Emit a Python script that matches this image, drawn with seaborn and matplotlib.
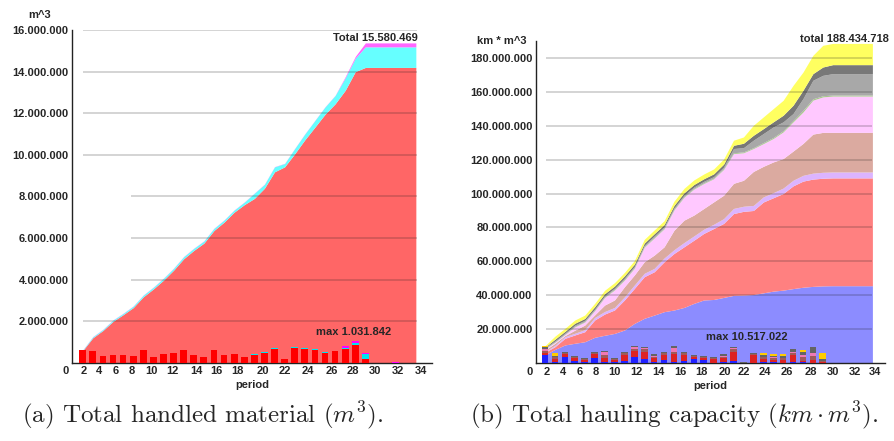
import matplotlib
matplotlib.use("Agg")
import matplotlib.pyplot as plt
from matplotlib.ticker import FuncFormatter
import pandas as pd
import seaborn as sns

sns.set_theme(style="white")
plt.rcParams['font.family'] = ['Liberation Sans', 'DejaVu Sans']
plt.rcParams['mathtext.fontset'] = 'cm'

# periods of the cumulative areas and of the per-period bars
periods = list(range(1, 35))
bar_periods = list(range(1, 30)) + [32]
tick_labels = [str(v) for v in range(2, 36, 2)]

# (a) cumulative handled material, million m^3 (upper edge of each band)
mat_red_top = [0.58, 1.20, 1.55, 1.99, 2.31, 2.65, 3.17, 3.55, 3.97, 4.45, 5.00, 5.40, 5.75, 6.36, 6.76, 7.24, 7.60,
               7.90, 8.39, 9.18, 9.42, 10.05, 10.72, 11.33, 11.95, 12.45, 13.10, 14.00, 14.20, 14.20, 14.20, 14.20, 14.20, 14.20]
mat_cyan_top = [0.61, 1.25, 1.60, 2.05, 2.37, 2.72, 3.25, 3.63, 4.06, 4.54, 5.10, 5.50, 5.85, 6.46, 6.86, 7.34, 7.72,
                8.15, 8.58, 9.42, 9.58, 10.30, 11.00, 11.65, 12.30, 12.85, 13.70, 14.65, 15.19, 15.19, 15.19, 15.19, 15.19, 15.19]
mat_magenta_top = [0.62, 1.26, 1.61, 2.06, 2.38, 2.73, 3.26, 3.64, 4.07, 4.55, 5.11, 5.51, 5.86, 6.47, 6.87, 7.35, 7.73,
                   8.16, 8.59, 9.43, 9.59, 10.31, 11.01, 11.66, 12.31, 12.86, 13.75, 14.73, 15.38, 15.38, 15.38, 15.38, 15.38, 15.38]

# (a) handled material per period, million m^3
mat_red = [0.59, 0.54, 0.32, 0.37, 0.35, 0.34, 0.59, 0.26, 0.40, 0.48, 0.59, 0.37, 0.29, 0.63, 0.38, 0.43, 0.27, 0.37,
           0.48, 0.66, 0.16, 0.69, 0.64, 0.59, 0.45, 0.54, 0.66, 0.86, 0.19, 0.0]
mat_cyan = [0.03, 0.04, 0, 0, 0, 0, 0, 0, 0, 0, 0, 0, 0, 0, 0, 0, 0, 0.03, 0.04, 0.03, 0, 0.06, 0.08, 0.05, 0.06, 0.04,
            0.07, 0.10, 0.24, 0.0]
mat_magenta = [0] * 26 + [0.06, 0.07, 0.05, 0.04]

# (b) cumulative hauling capacity, million km*m^3 (upper edge of each band)
hc_blue_top = [5.0, 8.2, 10.8, 11.8, 12.7, 15.3, 16.5, 17.6, 19.6, 23.5, 26.5, 28.4, 30.4, 31.4, 32.9, 35.3, 37.3, 37.6,
               38.8, 40.0, 40.2, 40.5, 41.5, 42.5, 43.1, 44.0, 44.8, 45.3, 45.6, 45.7, 45.7, 45.7, 45.7, 45.7]
hc_red_top = [6.5, 9.8, 14.7, 16.7, 18.6, 25.5, 29.0, 31.4, 37.3, 44.1, 51.0, 53.9, 59.8, 64.7, 68.6, 72.5, 76.5, 79.4,
              82.4, 88.2, 89.5, 90.0, 95.0, 97.5, 100.0, 104.5, 107.3, 108.5, 109.0, 109.2, 109.2, 109.2, 109.2, 109.2]
hc_lav_top = [7.0, 10.6, 15.7, 17.7, 19.8, 27.0, 30.5, 32.9, 39.1, 46.1, 53.0, 55.9, 62.0, 66.9, 71.1, 75.0, 79.0, 81.9,
              85.2, 91.2, 92.5, 93.0, 98.0, 100.5, 103.2, 107.8, 110.7, 112.0, 112.5, 112.7, 112.7, 112.7, 112.7, 112.7]
hc_brown_top = [7.8, 11.8, 16.3, 19.5, 22.5, 28.5, 34.3, 37.3, 45.1, 52.0, 59.8, 63.7, 68.6, 78.4, 84.3, 87.3, 91.2, 95.1,
                99.0, 106.0, 107.8, 113.0, 116.0, 118.6, 120.6, 125.0, 129.5, 135.0, 136.0, 136.0, 136.0, 136.0, 136.0, 136.0]
hc_pink_top = [8.5, 12.4, 17.0, 21.5, 24.3, 31.0, 38.8, 43.2, 49.0, 56.0, 68.4, 73.8, 79.2, 90.4, 97.8, 102.6, 105.9, 108.7,
               114.2, 123.5, 124.0, 126.5, 129.4, 132.4, 136.3, 142.2, 148.0, 155.0, 156.9, 157.4, 157.4, 157.4, 157.4, 157.4]
hc_green_top = [8.7, 12.6, 17.2, 21.8, 24.6, 31.3, 39.1, 43.6, 49.5, 56.4, 68.8, 74.2, 79.6, 90.8, 98.2, 103.0, 106.3, 109.1,
                114.6, 124.0, 124.5, 127.0, 130.0, 133.0, 137.0, 143.0, 149.0, 155.8, 157.6, 158.0, 158.0, 158.0, 158.0, 158.0]
hc_gray_top = [9.2, 13.2, 17.8, 22.5, 25.3, 32.0, 39.8, 44.3, 50.2, 57.1, 69.5, 75.0, 80.4, 91.6, 99.0, 103.8, 107.2, 110.0,
               115.6, 126.5, 127.0, 131.4, 135.3, 139.2, 142.2, 147.1, 155.9, 166.7, 169.6, 170.6, 170.6, 170.6, 170.6, 170.6]
hc_dark_top = [9.6, 14.2, 18.8, 23.6, 26.4, 33.3, 41.0, 45.5, 51.5, 58.4, 70.8, 76.3, 81.7, 93.0, 100.4, 105.3, 108.7, 111.6,
               117.3, 128.4, 129.6, 134.3, 138.2, 142.2, 146.1, 152.0, 160.8, 170.6, 174.5, 175.9, 175.9, 175.9, 175.9, 175.9]
hc_yellow_top = [10.4, 16.0, 20.6, 25.5, 28.4, 35.3, 43.0, 47.5, 53.5, 60.5, 73.0, 78.5, 84.0, 95.5, 103.0, 108.0, 111.5,
                 114.5, 120.3, 131.4, 133.3, 140.2, 145.1, 150.0, 154.9, 163.7, 171.5, 181.4, 187.3, 188.4, 188.4, 188.4,
                 188.4, 188.4]

# (b) hauling capacity per period, million km*m^3
hc_blue = [4.9, 1.0, 3.5, 1.5, 0.5, 3.0, 1.0, 0.5, 1.5, 3.5, 2.5, 1.0, 2.0, 0.8, 1.5, 2.5, 2.0, 0.3, 0.5, 1.2, 0.0, 0.0,
           0.8, 0.5, 0.3, 0.8, 0.5, 0.3, 0.0, 0.0]
hc_red = [1.0, 1.5, 1.8, 1.8, 1.5, 2.5, 2.0, 1.5, 3.5, 3.5, 4.0, 2.0, 3.0, 4.5, 3.5, 1.2, 1.3, 2.5, 2.5, 5.5, 0.0, 5.0,
          2.0, 1.5, 1.8, 4.0, 1.0, 1.5, 0.5, 0.0]
hc_brown = [1.5, 1.0, 0.8, 0.6, 0.5, 0.6, 2.0, 0.5, 1.0, 1.5, 2.0, 1.0, 1.0, 1.5, 1.0, 0.7, 0.5, 0.4, 1.0, 1.5, 0.0, 0.5,
            1.0, 1.0, 1.2, 1.2, 2.0, 2.5, 1.0, 0.0]
hc_pink = [1.0, 0.5, 0, 0, 0, 0, 1.8, 0, 0, 1.0, 0.5, 0.5, 0, 2.5, 0, 0, 0, 0, 0.5, 0.6, 0, 0, 0, 0.5, 0, 0.5, 1.5, 2.0,
           0, 0]
hc_gray = [1.0, 0.4, 0.4, 0.4, 0.4, 0.4, 0.7, 0.6, 0.5, 0.7, 0.8, 0.8, 0.5, 1.1, 0.7, 0.5, 0.5, 0.3, 1.0, 1.0, 0.6, 0.8,
           1.0, 1.0, 1.2, 1.7, 1.5, 3.1, 1.0, 0.0]
hc_gold = [1.0, 1.5] + [0] * 20 + [1.1, 0.8, 0.8, 0, 1.3, 0, 3.4, 0]


def dotted(v, pos=None):
    return f"{int(round(v * 1e6)):,}".replace(",", ".")


def areas(ax, tops, colors):
    lower = [0] * len(periods)
    for top, col in zip(tops, colors):
        ax.fill_between(periods, lower, top, color=col, lw=0, zorder=1)
        lower = top


def bars(ax, layers, colors):
    names = [f"l{i}" for i in range(len(layers))]
    rows = []
    for name, vals in zip(names, layers):
        for p, v in zip(bar_periods, vals):
            rows.append((p, name, v))
    df = pd.DataFrame(rows, columns=["period", "layer", "value"])
    sns.histplot(data=df, x="period", weights="value", hue="layer", hue_order=names[::-1],
                 palette=dict(zip(names, colors)), multiple="stack", discrete=True, shrink=0.67,
                 alpha=1, linewidth=0, edgecolor="none", legend=False, ax=ax, zorder=3)


def style(ax, ticks, ymax, ystep, xlim):
    ax.set_xlim(*xlim)
    ax.set_ylim(0, ymax)
    ax.set_yticks([ystep * i for i in range(1, int(ymax // ystep) + 1)])
    ax.yaxis.set_major_formatter(FuncFormatter(dotted))
    ax.set_xticks(ticks)
    ax.set_xticklabels(tick_labels)
    ax.tick_params(length=0, labelsize=8, pad=2.5)
    for lab in ax.get_xticklabels() + ax.get_yticklabels():
        lab.set_fontweight("bold")
    ax.set_xlabel("period", fontsize=8, fontweight="bold", labelpad=3)
    ax.set_ylabel("")
    for s in ["top", "right"]:
        ax.spines[s].set_visible(False)
    for s in ["left", "bottom"]:
        ax.spines[s].set_color("#222222")
        ax.spines[s].set_linewidth(1.0)
    ax.annotate("0", xy=(0, 0), xycoords="axes fraction", xytext=(-2, -2.5), textcoords="offset points",
                ha="right", va="top", fontsize=8, fontweight="bold")


fig = plt.figure(figsize=(8.94, 4.41), dpi=100)
ax1 = fig.add_axes([72 / 894, 1 - 362.7 / 441, 360 / 894, 332.7 / 441])
ax2 = fig.add_axes([536 / 894, 1 - 363.3 / 441, 349 / 894, 322.6 / 441])

# (a) total handled material
areas(ax1, [mat_red_top, mat_cyan_top, mat_magenta_top], ["#ff6666", "#66ffff", "#ff66ff"])
bars(ax1, [mat_red, mat_cyan, mat_magenta], ["#ff0000", "#00e6ee", "#ff00ff"])
ax1.hlines([2, 10, 12, 14, 16], 1, 34.1, colors="k", alpha=0.2, lw=1.3, zorder=2)
ax1.hlines([4, 6, 8], 5.8, 34.1, colors="k", alpha=0.2, lw=1.3, zorder=2)
style(ax1, [1.07, 2.65, 4.23, 5.85, 7.76, 9.91, 12.22, 14.27, 16.31, 18.89, 21.03, 23.34, 25.65, 27.8, 30.0, 32.25, 34.5],
      16, 2, (-0.06, 35.6))
ax1.text(34.2, 15.63, "Total 15.580.469", ha="right", va="center", fontsize=8, fontweight="bold", zorder=5)
ax1.text(27.85, 1.46, "max 1.031.842", ha="center", va="center", fontsize=8, fontweight="bold", zorder=5)
ax1.annotate("m^3", xy=(0, 1), xycoords="axes fraction", xytext=(-23, 11), textcoords="offset points",
             ha="center", va="center", fontsize=8, fontweight="bold")

# (b) total hauling capacity
areas(ax2, [hc_blue_top, hc_red_top, hc_lav_top, hc_brown_top, hc_pink_top, hc_green_top, hc_gray_top,
            hc_dark_top, hc_yellow_top],
      ["#8c8cff", "#ff8080", "#dcb4ff", "#dbaaa0", "#ffc8ff", "#a8c88c", "#a8a8a8", "#787878", "#ffff60"])
bars(ax2, [hc_blue, hc_red, hc_brown, hc_pink, hc_gray, hc_gold],
     ["#2020ff", "#dd2222", "#a05a5a", "#f078b4", "#646464", "#ffcc00"])
ax2.hlines([20 * i for i in range(1, 10)], 1.1, 34, colors="k", alpha=0.2, lw=1.3, zorder=2)
style(ax2, [1.17, 2.85, 4.53, 6.14, 7.99, 10.2, 12.43, 14.6, 16.8, 19.15, 21.0, 23.2, 25.4, 27.8, 30.0, 32.2, 34.3],
      190, 20, (0.09, 35.27))
ax2.text(35.7, 191.2, "total 188.434.718", ha="right", va="center", fontsize=8, fontweight="bold", clip_on=False,
         zorder=5)
ax2.text(21.3, 15.6, "max 10.517.022", ha="center", va="center", fontsize=8, fontweight="bold", zorder=5)
ax2.annotate("km * m^3", xy=(0, 1), xycoords="axes fraction", xytext=(-25, 0), textcoords="offset points",
             ha="center", va="center", fontsize=8, fontweight="bold")

# captions
fig.text(203 / 894, 1 - 422 / 441, r"(a) Total handled material ($m^3$).", ha="center", va="baseline",
         fontsize=18, family="cmr10")
fig.text(674 / 894, 1 - 422 / 441, r"(b) Total hauling capacity ($km \cdot m^3$).", ha="center", va="baseline",
         fontsize=18, family="cmr10")

fig.savefig("out.png", dpi=100)
